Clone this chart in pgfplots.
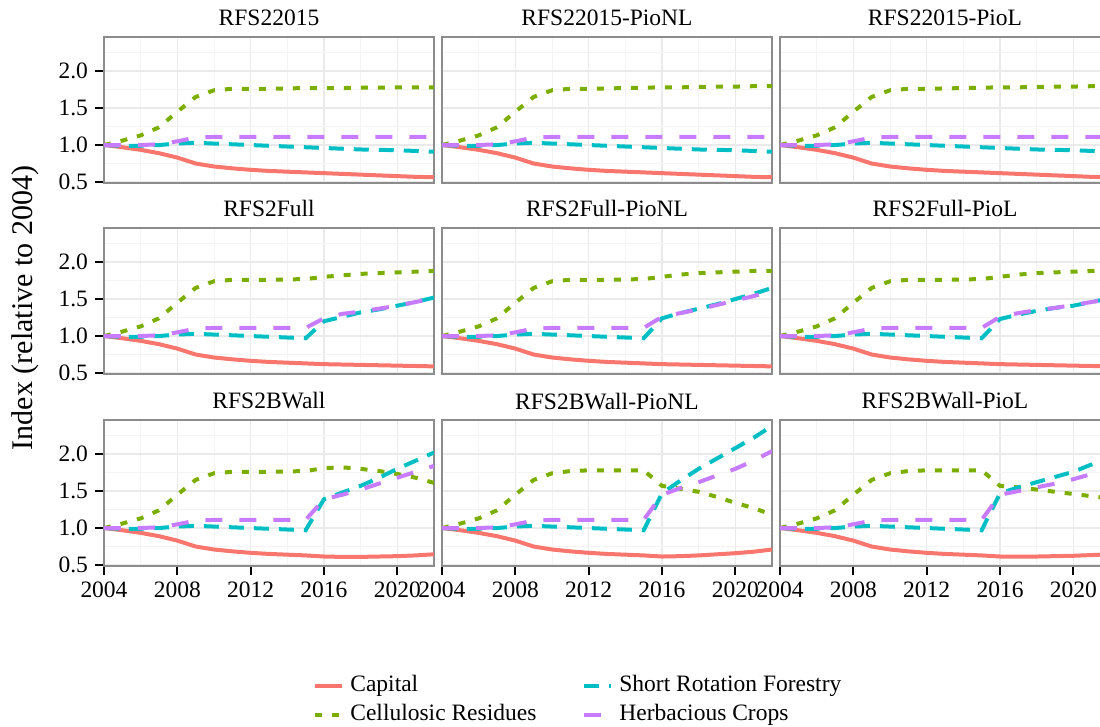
\documentclass[border=0pt]{standalone}
\usepackage{pgfplots}
\pgfplotsset{compat=1.18}
\usepackage{pgfplotstable}
\usepackage{fontspec}
\setmainfont{Liberation Serif}

\definecolor{capc}{HTML}{F8766D}
\definecolor{celc}{HTML}{7CAE00}
\definecolor{srfc}{HTML}{00BFC4}
\definecolor{herc}{HTML}{C77CFF}
\definecolor{bord}{HTML}{8C8C8C}
\definecolor{gmaj}{HTML}{EAEAEA}
\definecolor{gmin}{HTML}{F4F4F4}

% year cap cel srf her
\pgfplotstableread{
year cap cel srf her
2004 1.00 1.00 1.00 1.00
2005 0.97 1.06 0.99 1.00
2006 0.935 1.13 0.99 1.00
2007 0.89 1.24 1.00 1.01
2008 0.83 1.45 1.02 1.05
2009 0.75 1.65 1.03 1.10
2010 0.71 1.74 1.02 1.11
2011 0.685 1.76 1.01 1.11
2012 0.665 1.76 1.00 1.11
2013 0.65 1.76 0.99 1.11
2014 0.64 1.765 0.98 1.11
2015 0.63 1.77 0.97 1.11
2016 0.62 1.77 0.96 1.11
2017 0.61 1.77 0.95 1.11
2018 0.60 1.775 0.94 1.11
2019 0.59 1.775 0.935 1.11
2020 0.58 1.78 0.93 1.11
2021 0.57 1.78 0.92 1.11
2022 0.565 1.78 0.91 1.11
}\tA
\pgfplotstableread{
year cap cel srf her
2004 1.00 1.00 1.00 1.00
2005 0.97 1.06 0.99 1.00
2006 0.935 1.13 0.99 1.00
2007 0.89 1.24 1.00 1.01
2008 0.83 1.45 1.02 1.05
2009 0.75 1.65 1.03 1.10
2010 0.71 1.74 1.02 1.11
2011 0.685 1.76 1.01 1.11
2012 0.665 1.76 1.00 1.11
2013 0.65 1.765 0.99 1.11
2014 0.64 1.77 0.98 1.11
2015 0.63 1.775 0.97 1.11
2016 0.62 1.78 0.96 1.11
2017 0.61 1.78 0.95 1.11
2018 0.60 1.785 0.94 1.11
2019 0.59 1.79 0.935 1.11
2020 0.58 1.79 0.93 1.11
2021 0.57 1.795 0.92 1.11
2022 0.565 1.795 0.91 1.11
}\tB
\pgfplotstableread{
year cap cel srf her
2004 1.00 1.00 1.00 1.00
2005 0.97 1.06 0.99 1.00
2006 0.935 1.13 0.99 1.00
2007 0.89 1.24 1.00 1.01
2008 0.83 1.45 1.02 1.05
2009 0.75 1.65 1.03 1.10
2010 0.71 1.74 1.02 1.11
2011 0.685 1.76 1.01 1.11
2012 0.665 1.76 1.00 1.11
2013 0.65 1.765 0.99 1.11
2014 0.64 1.77 0.98 1.11
2015 0.63 1.775 0.97 1.11
2016 0.62 1.78 0.96 1.11
2017 0.61 1.78 0.95 1.11
2018 0.60 1.785 0.94 1.11
2019 0.59 1.79 0.935 1.11
2020 0.58 1.79 0.93 1.11
2021 0.57 1.795 0.92 1.11
2022 0.565 1.795 0.91 1.11
}\tC
\pgfplotstableread{
year cap cel srf her
2004 1.00 1.00 1.00 1.00
2005 0.97 1.06 0.99 1.00
2006 0.935 1.13 0.99 1.00
2007 0.89 1.24 1.00 1.01
2008 0.83 1.45 1.02 1.05
2009 0.75 1.65 1.03 1.10
2010 0.71 1.74 1.02 1.11
2011 0.685 1.76 1.01 1.11
2012 0.665 1.76 1.00 1.11
2013 0.65 1.76 0.99 1.11
2014 0.64 1.765 0.98 1.11
2015 0.63 1.77 0.97 1.11
2016 0.62 1.80 1.20 1.24
2017 0.615 1.82 1.26 1.30
2018 0.61 1.84 1.32 1.33
2019 0.605 1.85 1.36 1.37
2020 0.60 1.86 1.41 1.41
2021 0.595 1.87 1.46 1.46
2022 0.59 1.88 1.52 1.51
}\tD
\pgfplotstableread{
year cap cel srf her
2004 1.00 1.00 1.00 1.00
2005 0.97 1.06 0.99 1.00
2006 0.935 1.13 0.99 1.00
2007 0.89 1.24 1.00 1.01
2008 0.83 1.45 1.02 1.05
2009 0.75 1.65 1.03 1.10
2010 0.71 1.74 1.02 1.11
2011 0.685 1.76 1.01 1.11
2012 0.665 1.76 1.00 1.11
2013 0.65 1.76 0.99 1.11
2014 0.64 1.765 0.98 1.11
2015 0.63 1.77 0.97 1.11
2016 0.62 1.80 1.24 1.26
2017 0.615 1.83 1.31 1.31
2018 0.61 1.85 1.37 1.36
2019 0.605 1.86 1.43 1.42
2020 0.60 1.87 1.50 1.48
2021 0.595 1.88 1.57 1.54
2022 0.59 1.88 1.65 1.61
}\tE
\pgfplotstableread{
year cap cel srf her
2004 1.00 1.00 1.00 1.00
2005 0.97 1.06 0.99 1.00
2006 0.935 1.13 0.99 1.00
2007 0.89 1.24 1.00 1.01
2008 0.83 1.45 1.02 1.05
2009 0.75 1.65 1.03 1.10
2010 0.71 1.74 1.02 1.11
2011 0.685 1.76 1.01 1.11
2012 0.665 1.76 1.00 1.11
2013 0.65 1.76 0.99 1.11
2014 0.64 1.765 0.98 1.11
2015 0.63 1.77 0.97 1.11
2016 0.62 1.80 1.23 1.26
2017 0.615 1.83 1.29 1.31
2018 0.61 1.85 1.34 1.35
2019 0.605 1.86 1.38 1.38
2020 0.60 1.87 1.41 1.42
2021 0.595 1.88 1.46 1.46
2022 0.59 1.89 1.51 1.50
}\tF
\pgfplotstableread{
year cap cel srf her
2004 1.00 1.00 1.00 1.00
2005 0.97 1.06 0.99 1.00
2006 0.935 1.13 0.99 1.00
2007 0.89 1.24 1.00 1.01
2008 0.83 1.45 1.02 1.05
2009 0.75 1.65 1.03 1.10
2010 0.71 1.74 1.02 1.11
2011 0.685 1.76 1.01 1.11
2012 0.665 1.76 1.00 1.11
2013 0.65 1.76 0.99 1.11
2014 0.64 1.765 0.98 1.11
2015 0.63 1.77 0.97 1.11
2016 0.615 1.81 1.39 1.39
2017 0.61 1.82 1.48 1.45
2018 0.61 1.80 1.57 1.52
2019 0.615 1.77 1.68 1.60
2020 0.62 1.73 1.80 1.68
2021 0.63 1.68 1.91 1.76
2022 0.645 1.61 2.02 1.84
}\tG
\pgfplotstableread{
year cap cel srf her
2004 1.00 1.00 1.00 1.00
2005 0.97 1.06 0.99 1.00
2006 0.935 1.13 0.99 1.00
2007 0.89 1.24 1.00 1.01
2008 0.83 1.45 1.02 1.05
2009 0.75 1.65 1.03 1.10
2010 0.71 1.74 1.02 1.11
2011 0.685 1.77 1.01 1.11
2012 0.665 1.78 1.00 1.11
2013 0.65 1.78 0.99 1.11
2014 0.64 1.78 0.98 1.11
2015 0.63 1.78 0.97 1.11
2016 0.615 1.57 1.47 1.45
2017 0.62 1.53 1.64 1.54
2018 0.63 1.49 1.80 1.62
2019 0.645 1.42 1.94 1.71
2020 0.66 1.34 2.08 1.80
2021 0.68 1.27 2.22 1.91
2022 0.71 1.18 2.38 2.04
}\tH
\pgfplotstableread{
year cap cel srf her
2004 1.00 1.00 1.00 1.00
2005 0.97 1.06 0.99 1.00
2006 0.935 1.13 0.99 1.00
2007 0.89 1.24 1.00 1.01
2008 0.83 1.45 1.02 1.05
2009 0.75 1.65 1.03 1.10
2010 0.71 1.74 1.02 1.11
2011 0.685 1.77 1.01 1.11
2012 0.665 1.78 1.00 1.11
2013 0.65 1.78 0.99 1.11
2014 0.64 1.78 0.98 1.11
2015 0.63 1.78 0.97 1.11
2016 0.615 1.57 1.47 1.45
2017 0.615 1.55 1.55 1.50
2018 0.615 1.52 1.62 1.55
2019 0.62 1.49 1.69 1.60
2020 0.625 1.46 1.76 1.66
2021 0.635 1.43 1.86 1.73
2022 0.645 1.40 1.97 1.81
}\tI

\newcommand{\fs}{\fontsize{11.75}{13}\selectfont\rmfamily}

\pgfplotsset{
  every axis title shift=0pt,
  capst/.style={color=capc, line width=2pt, solid, line join=round},
  celst/.style={color=celc, line width=2pt, dash pattern=on 3.5pt off 5pt},
  srfst/.style={color=srfc, line width=2pt, dash pattern=on 7.5pt off 5pt},
  herst/.style={color=herc, line width=2pt, dash pattern=on 8.5pt off 8.5pt},
  panel/.style={
    scale only axis, width=165pt, height=73pt,
    anchor=south west,
    xmin=2004, xmax=2022, ymin=0.487, ymax=2.46,
    xtick={2004,2008,2012,2016,2020},
    minor xtick={2006,2010,2014,2018,2022},
    ytick={0.5,1,1.5,2},
    minor ytick={0.75,1.25,1.75,2.25},
    grid=both,
    major grid style={color=gmaj, line width=0.6pt},
    minor grid style={color=gmin, line width=0.4pt},
    axis line style={draw=bord, line width=0.8pt},
    tick align=outside, tick pos=left,
    major tick length=4.5pt, minor tick length=0pt,
    tick style={black, line width=1pt},
    /pgf/number format/assume math mode=true,
    tick label style={font=\fs},
    xticklabel style={/pgf/number format/set thousands separator={}},
    yticklabel style={/pgf/number format/.cd, fixed, fixed zerofill, precision=1},
    title style={font=\fs, at={(0.5,1)}, anchor=base, yshift=5.5pt},
    clip=true,
    legend image code/.code={\draw[#1] (0pt,0pt) -- (13.5pt,0pt);},
  },
  noy/.style={yticklabels={}, ytick style={draw=none}},
  nox/.style={xticklabels={}, xtick style={draw=none}},
}

\newcommand{\series}[1]{%
  \addplot[capst] table[x=year,y=cap]{#1};
  \addplot[celst] table[x=year,y=cel]{#1};
  \addplot[srfst] table[x=year,y=srf]{#1};
  \addplot[herst] table[x=year,y=her]{#1};
}

\begin{document}
\begin{tikzpicture}
\useasboundingbox (0,0) rectangle (550pt,-363.5pt);

% row 1
\begin{axis}[panel, nox, at={(52pt,-91.5pt)}, title={RFS22015}]
\series{\tA}
\end{axis}
\begin{axis}[panel, nox, noy, at={(221pt,-91.5pt)}, title={RFS22015-PioNL}]
\series{\tB}
\end{axis}
\begin{axis}[panel, nox, noy, at={(390pt,-91.5pt)}, title={RFS22015-PioL}]
\series{\tC}
\end{axis}

% row 2
\begin{axis}[panel, nox, at={(52pt,-187pt)}, title={RFS2Full}]
\series{\tD}
\end{axis}
\begin{axis}[panel, nox, noy, at={(221pt,-187pt)}, title={RFS2Full-PioNL}]
\series{\tE}
\end{axis}
\begin{axis}[panel, nox, noy, at={(390pt,-187pt)}, title={RFS2Full-PioL}]
\series{\tF}
\end{axis}

% row 3
\begin{axis}[panel, at={(52pt,-283pt)}, title={RFS2BWall}]
\series{\tG}
\end{axis}
\begin{axis}[panel, noy, at={(221pt,-283pt)}, title={RFS2BWall-PioNL},
  legend columns=2, transpose legend,
  legend cell align=left,
  legend style={draw=none, fill=none, inner sep=0pt, anchor=north west,
    at={(-0.391,-0.719)}, font=\fs,
    cells={anchor=west},
    nodes={inner sep=1pt, text height=9pt, text depth=3.5pt},
    /tikz/every odd column/.append style={column sep=2pt},
    /tikz/every even column/.append style={column sep=22pt}},
  ]
\series{\tH}
\legend{Capital, Cellulosic Residues, Short Rotation Forestry, Herbacious Crops}
\end{axis}
\begin{axis}[panel, noy, at={(390pt,-283pt)}, title={RFS2BWall-PioL}]
\series{\tI}
\end{axis}

\node[rotate=90, font=\fontsize{15}{17}\selectfont] at (12.5pt,-154pt) {Index (relative to 2004)};
\end{tikzpicture}
\end{document}
